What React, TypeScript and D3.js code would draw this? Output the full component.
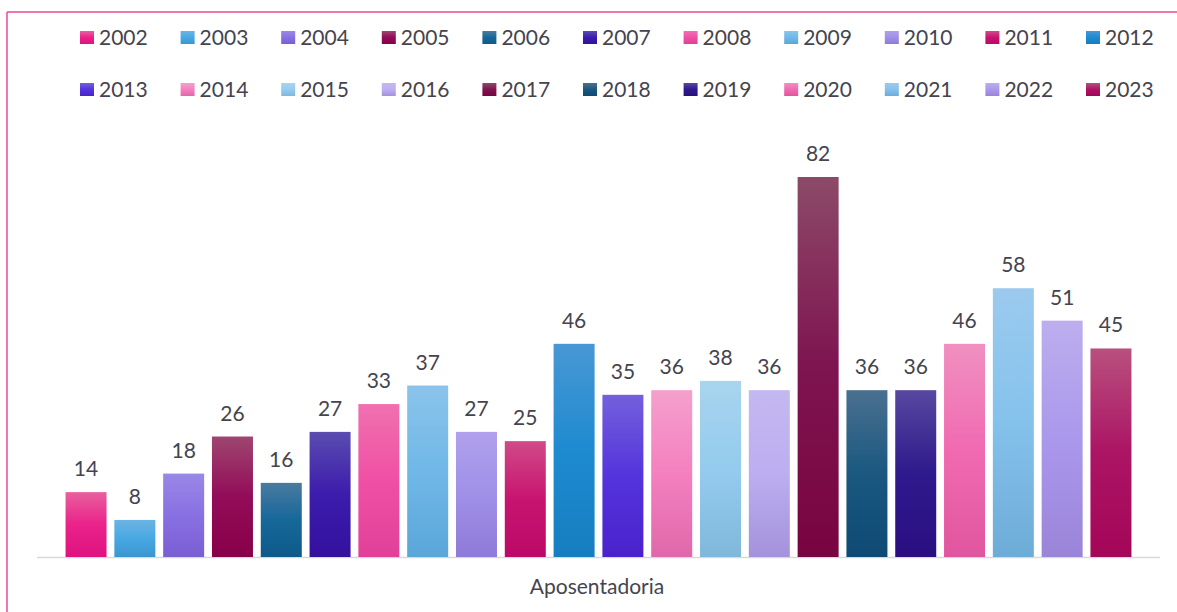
import React from "react";
import * as d3 from "d3";

const years = [
  "2002", "2003", "2004", "2005", "2006", "2007", "2008", "2009", "2010", "2011", "2012",
  "2013", "2014", "2015", "2016", "2017", "2018", "2019", "2020", "2021", "2022", "2023",
];
const values = [14, 8, 18, 26, 16, 27, 33, 37, 27, 25, 46, 35, 36, 38, 36, 82, 36, 36, 46, 58, 51, 45];
const category = "Aposentadoria";

// gradient stops per year: top, middle, bottom
const topColors = [
  "#e8609e", "#6cb4e4", "#9a88e6", "#9e4670", "#4a7aa0", "#5a4cb0", "#f070b0", "#8ac4ea",
  "#b0a0ec", "#d04a88", "#4898d4", "#7460dc", "#f4a0cc", "#a8d4ee", "#c4b8f0", "#8c4a68",
  "#4a7090", "#5848a0", "#f090c0", "#9ccaee", "#bcaeee", "#b8507e",
];
const midColors = [
  "#ea228a", "#48a8e2", "#8870e2", "#920c58", "#16689a", "#3c1cac", "#f050a4", "#70b8e8",
  "#a090e8", "#c81470", "#1e8ad0", "#5434dc", "#f480c0", "#94cbee", "#bcaef0", "#7e1450",
  "#1a5880", "#2e1a8c", "#f06ab2", "#84c2ec", "#aa98ec", "#ac1464",
];
const bottomColors = [
  "#df1280", "#3a96d0", "#7a5ed4", "#880048", "#0e5a88", "#34109e", "#e04098", "#5aa6d8",
  "#8e7ad8", "#bc0868", "#167ec0", "#4a22cc", "#e068aa", "#80b8dc", "#a492dc", "#780440",
  "#0e4a74", "#2a0e82", "#e0569e", "#6eacd8", "#9a84d8", "#a40658",
];

const W = 1177;
const H = 612;
const textColor = "#44444e";
const font = "Lato, 'Open Sans', sans-serif";

export default function App() {
  const x = d3.scaleBand<string>().domain(years).range([37, 1160]).paddingInner(0.16).paddingOuter(0.585);
  const y = d3.scaleLinear().domain([0, 82]).range([557, 177]);

  const perRow = 11;
  const legendX = d3.scaleLinear().domain([0, perRow - 1]).range([80, 1086]);
  const legendY = d3.scaleLinear().domain([0, 1]).range([31, 83]);

  return (
    <svg width={W} height={H} style={{ position: "absolute", left: 0, top: 0 }} fontFamily={font}>
      <defs>
        {years.map((yr, i) => (
          <linearGradient key={yr} id={`g${yr}`} x1="0" y1="0" x2="0" y2="1">
            <stop offset="0%" stopColor={topColors[i]} />
            <stop offset="50%" stopColor={midColors[i]} />
            <stop offset="100%" stopColor={bottomColors[i]} />
          </linearGradient>
        ))}
      </defs>
      <rect width={W} height={H} fill="#fff" />
      {/* frame */}
      <line x1={7} y1={12} x2={W} y2={12} stroke="#e8489a" strokeWidth={1.5} />
      <line x1={7} y1={12} x2={7} y2={H} stroke="#e8489a" strokeWidth={1.5} />

      {/* legend */}
      {years.map((yr, i) => {
        const col = i % perRow;
        const row = Math.floor(i / perRow);
        const lx = legendX(col);
        const ly = legendY(row);
        return (
          <g key={yr}>
            <rect x={lx} y={ly} width={14} height={13} fill={`url(#g${yr})`} />
            <text x={lx + 19} y={ly + 14} fontSize={21} fill={textColor}>{yr}</text>
          </g>
        );
      })}

      {/* baseline */}
      <line x1={37} x2={1160} y1={y(0) + 0.5} y2={y(0) + 0.5} stroke="#d9d9d9" strokeWidth={1.5} />

      {/* bars */}
      {years.map((yr, i) => (
        <g key={yr}>
          <rect
            x={x(yr)}
            y={y(values[i])}
            width={x.bandwidth()}
            height={y(0) - y(values[i])}
            fill={`url(#g${yr})`}
          />
          <text
            x={(x(yr) as number) + x.bandwidth() / 2}
            y={y(values[i]) - 16}
            textAnchor="middle"
            fontSize={21}
            fill={textColor}
          >
            {values[i]}
          </text>
        </g>
      ))}

      <text x={597} y={594} textAnchor="middle" fontSize={21} fill={textColor}>{category}</text>
    </svg>
  );
}
